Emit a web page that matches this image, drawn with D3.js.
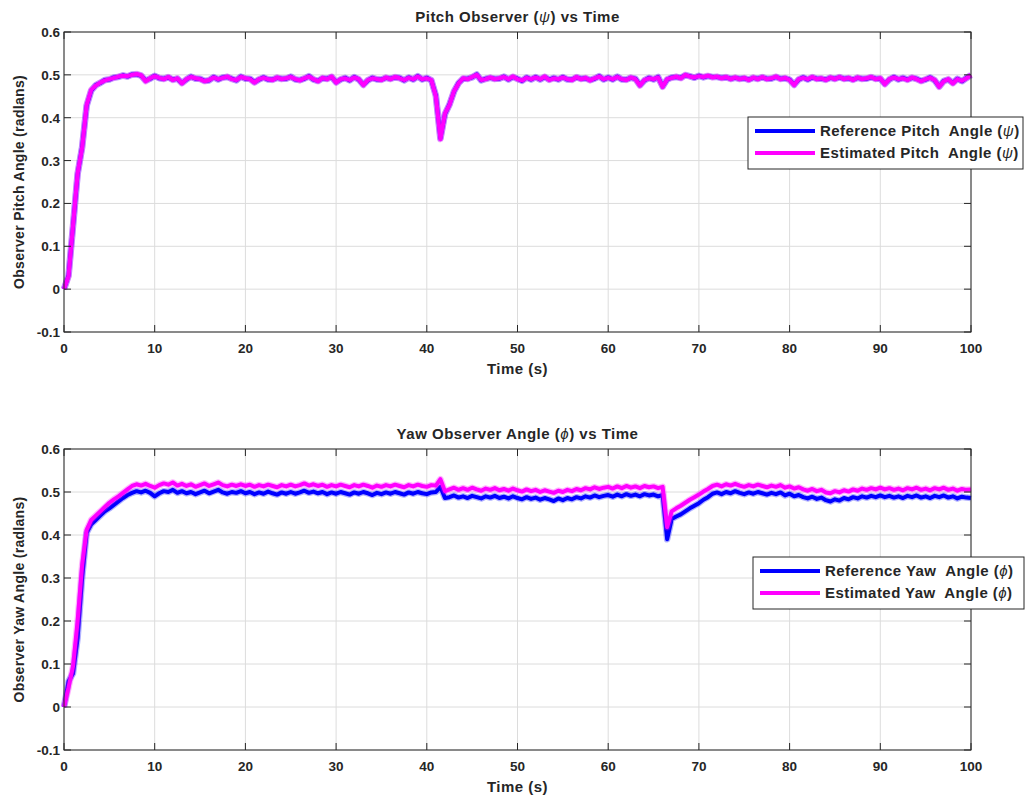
<!DOCTYPE html>
<html>
<head>
<meta charset="utf-8">
<script src="https://cdn.jsdelivr.net/npm/d3@7"></script>
<style>
body { margin: 0; background: #fff; }
text { font-family: "Liberation Sans", Arial, sans-serif; font-weight: bold; fill: #262626; }
</style>
</head>
<body>
<svg id="chart" width="1027" height="796"></svg>
<script>
// sample times (s)
const time = [
  0, 0.5, 1, 1.5, 2, 2.5, 3, 3.5, 4, 4.5,
  5, 5.5, 6, 6.5, 7, 7.5, 8, 8.5, 9, 9.5,
  10, 10.5, 11, 11.5, 12, 12.5, 13, 13.5, 14, 14.5,
  15, 15.5, 16, 16.5, 17, 17.5, 18, 18.5, 19, 19.5,
  20, 20.5, 21, 21.5, 22, 22.5, 23, 23.5, 24, 24.5,
  25, 25.5, 26, 26.5, 27, 27.5, 28, 28.5, 29, 29.5,
  30, 30.5, 31, 31.5, 32, 32.5, 33, 33.5, 34, 34.5,
  35, 35.5, 36, 36.5, 37, 37.5, 38, 38.5, 39, 39.5,
  40, 40.5, 41, 41.5, 42, 42.5, 43, 43.5, 44, 44.5,
  45, 45.5, 46, 46.5, 47, 47.5, 48, 48.5, 49, 49.5,
  50, 50.5, 51, 51.5, 52, 52.5, 53, 53.5, 54, 54.5,
  55, 55.5, 56, 56.5, 57, 57.5, 58, 58.5, 59, 59.5,
  60, 60.5, 61, 61.5, 62, 62.5, 63, 63.5, 64, 64.5,
  65, 65.5, 66, 66.5, 67, 67.5, 68, 68.5, 69, 69.5,
  70, 70.5, 71, 71.5, 72, 72.5, 73, 73.5, 74, 74.5,
  75, 75.5, 76, 76.5, 77, 77.5, 78, 78.5, 79, 79.5,
  80, 80.5, 81, 81.5, 82, 82.5, 83, 83.5, 84, 84.5,
  85, 85.5, 86, 86.5, 87, 87.5, 88, 88.5, 89, 89.5,
  90, 90.5, 91, 91.5, 92, 92.5, 93, 93.5, 94, 94.5,
  95, 95.5, 96, 96.5, 97, 97.5, 98, 98.5, 99, 99.5,
  100
];

const pitchRef = [
  0, 0.032, 0.148, 0.268, 0.332, 0.428, 0.463, 0.476, 0.481, 0.488,
  0.489, 0.494, 0.495, 0.499, 0.496, 0.501, 0.501, 0.498, 0.487, 0.491,
  0.498, 0.492, 0.491, 0.494, 0.489, 0.491, 0.481, 0.489, 0.496, 0.491,
  0.491, 0.486, 0.487, 0.495, 0.489, 0.494, 0.495, 0.491, 0.487, 0.496,
  0.491, 0.491, 0.483, 0.489, 0.494, 0.489, 0.489, 0.493, 0.491, 0.491,
  0.496, 0.489, 0.488, 0.491, 0.497, 0.489, 0.486, 0.492, 0.491, 0.495,
  0.483, 0.489, 0.493, 0.487, 0.495, 0.489, 0.477, 0.487, 0.493, 0.489,
  0.489, 0.493, 0.491, 0.494, 0.493, 0.487, 0.494, 0.489, 0.497, 0.489,
  0.493, 0.487, 0.452, 0.352, 0.408, 0.431, 0.461, 0.481, 0.491, 0.491,
  0.494, 0.501, 0.487, 0.491, 0.493, 0.491, 0.491, 0.496, 0.489, 0.495,
  0.491, 0.486, 0.494, 0.489, 0.495, 0.489, 0.495, 0.489, 0.493, 0.489,
  0.495, 0.489, 0.489, 0.494, 0.491, 0.492, 0.488, 0.491, 0.497, 0.489,
  0.494, 0.489, 0.496, 0.489, 0.489, 0.493, 0.491, 0.476, 0.487, 0.493,
  0.489, 0.495, 0.473, 0.489, 0.494, 0.495, 0.493, 0.499, 0.497, 0.493,
  0.498, 0.494, 0.497, 0.495, 0.495, 0.493, 0.494, 0.491, 0.493, 0.491,
  0.492, 0.489, 0.493, 0.491, 0.494, 0.491, 0.491, 0.495, 0.491, 0.492,
  0.489, 0.477, 0.489, 0.494, 0.489, 0.494, 0.491, 0.491, 0.489, 0.493,
  0.491, 0.494, 0.491, 0.492, 0.489, 0.493, 0.491, 0.491, 0.494, 0.491,
  0.491, 0.479, 0.489, 0.495, 0.489, 0.493, 0.489, 0.493, 0.491, 0.486,
  0.489, 0.494, 0.487, 0.473, 0.486, 0.489, 0.481, 0.491, 0.485, 0.493,
  0.499
];

const pitchEst = [
  0, 0.03, 0.15, 0.27, 0.33, 0.43, 0.465, 0.475, 0.482, 0.487,
  0.49, 0.493, 0.496, 0.498, 0.497, 0.5, 0.502, 0.499, 0.485, 0.492,
  0.497, 0.493, 0.49, 0.495, 0.488, 0.492, 0.48, 0.49, 0.495, 0.492,
  0.49, 0.485, 0.488, 0.494, 0.49, 0.493, 0.496, 0.49, 0.488, 0.495,
  0.492, 0.49, 0.482, 0.49, 0.493, 0.49, 0.488, 0.494, 0.49, 0.492,
  0.495, 0.49, 0.487, 0.492, 0.496, 0.49, 0.485, 0.493, 0.49, 0.496,
  0.482, 0.49, 0.492, 0.488, 0.494, 0.49, 0.476, 0.488, 0.492, 0.49,
  0.488, 0.494, 0.49, 0.495, 0.492, 0.488, 0.493, 0.49, 0.496, 0.49,
  0.492, 0.488, 0.45, 0.35, 0.41, 0.43, 0.462, 0.48, 0.492, 0.49,
  0.495, 0.5, 0.488, 0.49, 0.494, 0.49, 0.492, 0.495, 0.49, 0.496,
  0.49, 0.487, 0.493, 0.49, 0.494, 0.49, 0.496, 0.488, 0.492, 0.49,
  0.494, 0.49, 0.488, 0.495, 0.49, 0.493, 0.487, 0.492, 0.496, 0.49,
  0.493, 0.49, 0.495, 0.49, 0.488, 0.494, 0.49, 0.475, 0.488, 0.492,
  0.49, 0.494, 0.472, 0.49, 0.493, 0.496, 0.492, 0.5, 0.496, 0.494,
  0.497, 0.495, 0.498, 0.494, 0.496, 0.492, 0.495, 0.49, 0.494, 0.49,
  0.493, 0.488, 0.494, 0.49, 0.495, 0.49, 0.492, 0.496, 0.49, 0.493,
  0.488, 0.476, 0.49, 0.493, 0.49, 0.495, 0.49, 0.492, 0.488, 0.494,
  0.49, 0.495, 0.49, 0.493, 0.488, 0.494, 0.49, 0.492, 0.495, 0.49,
  0.492, 0.478, 0.49, 0.494, 0.49, 0.492, 0.488, 0.494, 0.49, 0.485,
  0.49, 0.493, 0.488, 0.472, 0.485, 0.49, 0.48, 0.49, 0.486, 0.492,
  0.5
];

const yawRef = [
  0, 0.06, 0.078, 0.16, 0.3, 0.405, 0.425, 0.435, 0.445, 0.455,
  0.462, 0.47, 0.478, 0.486, 0.493, 0.498, 0.502, 0.499, 0.503, 0.498,
  0.49, 0.497, 0.502, 0.5, 0.505, 0.498, 0.502, 0.497, 0.5, 0.495,
  0.499, 0.503, 0.497, 0.501, 0.505, 0.499, 0.496, 0.5, 0.498, 0.502,
  0.497, 0.5, 0.495, 0.499, 0.496, 0.501, 0.497, 0.494, 0.499, 0.496,
  0.5, 0.496, 0.499, 0.503, 0.498, 0.501, 0.497, 0.5, 0.495, 0.499,
  0.496, 0.5, 0.497, 0.494, 0.499, 0.496, 0.5, 0.497, 0.493, 0.498,
  0.495, 0.499, 0.496, 0.5, 0.497, 0.494, 0.499, 0.496, 0.5, 0.497,
  0.495, 0.499, 0.5, 0.512, 0.486, 0.488, 0.492, 0.487, 0.49, 0.486,
  0.491, 0.488, 0.485, 0.49, 0.487, 0.491, 0.486, 0.489, 0.485, 0.49,
  0.486, 0.483, 0.488, 0.484, 0.487, 0.482, 0.486, 0.483, 0.479, 0.485,
  0.481, 0.486, 0.483, 0.488, 0.485, 0.49, 0.487, 0.492, 0.488, 0.491,
  0.493, 0.489, 0.494, 0.49, 0.495, 0.491, 0.494, 0.49, 0.495, 0.492,
  0.494, 0.49, 0.493, 0.39, 0.437, 0.443, 0.448, 0.455, 0.462, 0.468,
  0.474, 0.482, 0.488, 0.496, 0.499, 0.495, 0.5, 0.497, 0.502, 0.498,
  0.495, 0.499, 0.496, 0.5, 0.497, 0.494, 0.498, 0.495, 0.499, 0.492,
  0.496, 0.49, 0.493, 0.488, 0.485, 0.489, 0.484, 0.487, 0.481, 0.478,
  0.483, 0.48, 0.486, 0.483, 0.488, 0.485, 0.49, 0.487, 0.491, 0.488,
  0.492, 0.488, 0.491, 0.487, 0.49, 0.486, 0.491, 0.488, 0.492, 0.487,
  0.49, 0.486, 0.491, 0.488, 0.492, 0.487, 0.49, 0.485, 0.489, 0.487,
  0.486
];

const yawEst = [
  0, 0.045, 0.095, 0.2, 0.33, 0.412, 0.435, 0.445, 0.455, 0.465,
  0.475, 0.483, 0.49, 0.498, 0.506, 0.514, 0.518, 0.515, 0.519, 0.514,
  0.51, 0.516, 0.52, 0.517, 0.522, 0.515, 0.519, 0.514, 0.518, 0.512,
  0.516, 0.52, 0.514, 0.518, 0.522, 0.516, 0.513, 0.517, 0.514, 0.518,
  0.514, 0.517, 0.512, 0.516, 0.513, 0.517, 0.514, 0.511, 0.516, 0.513,
  0.517, 0.513, 0.516, 0.52, 0.515, 0.518, 0.514, 0.517, 0.512, 0.516,
  0.513, 0.517, 0.514, 0.511, 0.516, 0.513, 0.517, 0.514, 0.51, 0.515,
  0.512, 0.516, 0.513, 0.517, 0.514, 0.511, 0.516, 0.513, 0.517, 0.514,
  0.512, 0.516, 0.515, 0.53, 0.502, 0.506, 0.51, 0.505, 0.509, 0.505,
  0.51, 0.506, 0.503, 0.508, 0.505, 0.509, 0.504, 0.507, 0.503, 0.508,
  0.504, 0.501, 0.506, 0.502, 0.505, 0.5, 0.504, 0.501, 0.498, 0.503,
  0.5, 0.505, 0.502, 0.507, 0.504, 0.509, 0.506, 0.511, 0.507, 0.51,
  0.512, 0.508, 0.513, 0.509, 0.514, 0.51, 0.513, 0.509, 0.514, 0.511,
  0.513, 0.509, 0.512, 0.418, 0.455, 0.462, 0.468, 0.475, 0.482, 0.488,
  0.494, 0.501, 0.507, 0.514, 0.517, 0.513, 0.518, 0.515, 0.519, 0.515,
  0.512, 0.516, 0.513, 0.517, 0.514, 0.511, 0.515, 0.512, 0.516, 0.51,
  0.513, 0.508, 0.511, 0.506, 0.503, 0.507, 0.502, 0.505, 0.499, 0.497,
  0.502, 0.499, 0.504, 0.501, 0.506, 0.503, 0.508, 0.505, 0.509, 0.506,
  0.51, 0.506, 0.509, 0.505, 0.508, 0.504, 0.509, 0.506, 0.51, 0.505,
  0.508, 0.504, 0.509, 0.506, 0.51, 0.505, 0.508, 0.503, 0.507, 0.505,
  0.506
];

const xTicks = [0, 10, 20, 30, 40, 50, 60, 70, 80, 90, 100];
const yTicks = [-0.1, 0, 0.1, 0.2, 0.3, 0.4, 0.5, 0.6];

const svg = d3.select("#chart");
const left = 64, right = 971;

const x = d3.scaleLinear().domain([0, 100]).range([left, right]);

let drawPanel = (top, bottom, title, symbol, titleEnd, ylabel, series, leg) => {
    let y = d3.scaleLinear().domain([-0.1, 0.6]).range([bottom, top]);
    let g = svg.append("g");

    // grid
    g.selectAll(".gx").data(xTicks).enter().append("line")
        .attr("x1", d => x(d)).attr("x2", d => x(d))
        .attr("y1", top).attr("y2", bottom)
        .style("stroke", "#dcdcdc").style("stroke-width", 1);
    g.selectAll(".gy").data(yTicks).enter().append("line")
        .attr("x1", left).attr("x2", right)
        .attr("y1", d => y(d)).attr("y2", d => y(d))
        .style("stroke", "#dcdcdc").style("stroke-width", 1);

    // lines
    let line = d3.line().x((d, i) => x(time[i])).y(d => y(d));
    series.forEach(s => {
        g.append("path").datum(s.values)
            .attr("d", line)
            .style("fill", "none")
            .style("stroke", s.color)
            .style("stroke-opacity", 0.3)
            .style("stroke-width", 6.5)
            .style("stroke-linejoin", "round");
        g.append("path").datum(s.values)
            .attr("d", line)
            .style("fill", "none")
            .style("stroke", s.color)
            .style("stroke-width", 4)
            .style("stroke-linejoin", "round");
    });

    // box + ticks
    g.append("rect").attr("x", left).attr("y", top)
        .attr("width", right - left).attr("height", bottom - top)
        .style("fill", "none").style("stroke", "#262626").style("stroke-width", 1);
    let tl = 7;
    xTicks.forEach(t => {
        g.append("line").attr("x1", x(t)).attr("x2", x(t)).attr("y1", bottom).attr("y2", bottom - tl)
            .style("stroke", "#262626");
        g.append("line").attr("x1", x(t)).attr("x2", x(t)).attr("y1", top).attr("y2", top + tl)
            .style("stroke", "#262626");
        g.append("text").attr("x", x(t)).attr("y", bottom + 21)
            .attr("text-anchor", "middle").style("font-size", "13.5px").text(t);
    });
    yTicks.forEach(t => {
        g.append("line").attr("x1", left).attr("x2", left + tl).attr("y1", y(t)).attr("y2", y(t))
            .style("stroke", "#262626");
        g.append("line").attr("x1", right).attr("x2", right - tl).attr("y1", y(t)).attr("y2", y(t))
            .style("stroke", "#262626");
        g.append("text").attr("x", left - 4).attr("y", y(t) + 5)
            .attr("text-anchor", "end").style("font-size", "13.5px").text(+t.toFixed(1));
    });

    // title
    let tt = g.append("text").attr("x", (left + right) / 2).attr("y", top - 10)
        .attr("text-anchor", "middle").style("font-size", "15px").style("letter-spacing", "0.5px");
    tt.append("tspan").text(title + " (");
    tt.append("tspan").style("font-style", "italic").style("font-weight", "normal").text(symbol);
    tt.append("tspan").text(") " + titleEnd);

    // axis labels
    g.append("text").attr("x", (left + right) / 2).attr("y", bottom + 42)
        .attr("text-anchor", "middle").style("font-size", "15px").style("letter-spacing", "0.5px")
        .text("Time (s)");
    g.append("text").attr("transform", `translate(24,${(top + bottom) / 2}) rotate(-90)`)
        .attr("text-anchor", "middle").style("font-size", "14px").style("letter-spacing", "0.3px")
        .text(ylabel);

    // legend
    let lg = g.append("g").attr("transform", `translate(${leg.x},${leg.y})`);
    lg.append("rect").attr("width", leg.w).attr("height", 52)
        .style("fill", "#fff").style("stroke", "#262626").style("stroke-width", 1);
    series.forEach((s, i) => {
        let ly = 14 + i * 22;
        lg.append("line").attr("x1", 7).attr("x2", 67).attr("y1", ly).attr("y2", ly)
            .style("stroke", s.color).style("stroke-width", 4);
        let t = lg.append("text").attr("x", 72).attr("y", ly + 5)
            .style("font-size", "15px").style("letter-spacing", "0.45px")
            .attr("xml:space", "preserve");
        t.append("tspan").text(s.label + " (");
        t.append("tspan").style("font-style", "italic").style("font-weight", "normal").text(symbol);
        t.append("tspan").text(")");
    });
};

drawPanel(32, 332, "Pitch Observer", "\u03C8", "vs Time", "Observer Pitch Angle (radlans)",
    [{values: pitchRef, color: "#0000ff", label: "Reference Pitch  Angle"},
     {values: pitchEst, color: "#ff00ff", label: "Estimated Pitch  Angle"}],
    {x: 748, y: 117, w: 275});

drawPanel(449, 750, "Yaw Observer Angle", "\u03D5", "vs Time", "Observer Yaw Angle (radlans)",
    [{values: yawRef, color: "#0000ff", label: "Reference Yaw  Angle"},
     {values: yawEst, color: "#ff00ff", label: "Estimated Yaw  Angle"}],
    {x: 753, y: 557, w: 271});
</script>
</body>
</html>
